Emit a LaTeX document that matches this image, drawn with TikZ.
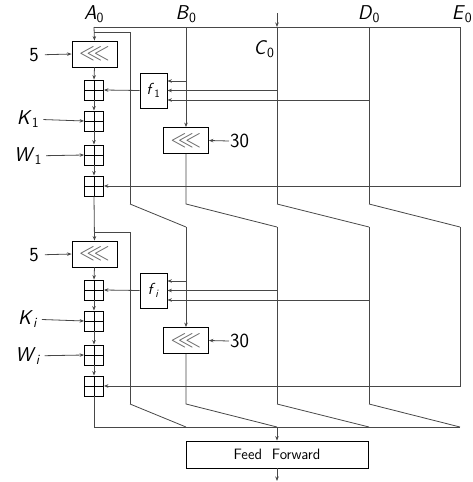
\documentclass[tikz,border=0pt]{standalone}
\usepackage{amssymb}
\usepackage{fontspec}
\usetikzlibrary{arrows.meta}
\newcommand\lbl[2]{\textsf{\textsl{#1}}\textsubscript{\textsf{#2}}}
\begin{document}
\begin{tikzpicture}[x=1pt,y=-1pt,
  ln/.style={draw=black!72,line width=0.8pt},
  arr/.style={ln,-{Stealth[length=4.5pt,width=3.5pt]}},
  boxst/.style={draw=black,line width=0.8pt,inner sep=0pt,fill=white},
  rotbox/.style={boxst,minimum width=45pt,minimum height=26pt,text=black!60,font=\fontsize{23}{24}\selectfont},
  fbox/.style={boxst,minimum width=27pt,minimum height=35pt,font=\fontsize{16}{17}\selectfont},
  adder/.style={boxst,minimum width=19pt,minimum height=20pt,
     path picture={\draw[black,line width=0.8pt] (path picture bounding box.north) -- (path picture bounding box.south)
       (path picture bounding box.west) -- (path picture bounding box.east);}},
  lab/.style={font=\fontsize{20}{22}\selectfont,inner sep=1pt},
  ffbox/.style={boxst,minimum width=182pt,minimum height=27pt,font=\sffamily\fontsize{15}{17}\selectfont}
]
\useasboundingbox (0,0) rectangle (473,482);

% top labels
\node[lab] (lA) at (94,14) {\lbl{A}{0}};
\node[lab] (lB) at (186,14) {\lbl{B}{0}};
\node[lab] (lC) at (264,49) {\lbl{C}{0}};
\node[lab] (lD) at (369,14) {\lbl{D}{0}};
\node[lab] (lE) at (462,14) {\lbl{E}{0}};

\coordinate (tA) at (94,27);
\coordinate (tB) at (186,27);
\coordinate (tCtop) at (277,13);
\coordinate (tC) at (277,27);
\coordinate (tD) at (369,27);
\coordinate (tE) at (460,27);

\foreach \r/\o/\s in {1/0/1,2/200/\textsl{i}}{
  \node[rotbox] (rotA\r) at (94.5,54+\o) {$\lll$};
  \node[adder] (addF\r) at (94,90+\o) {};
  \node[adder] (addK\r) at (94,121+\o) {};
  \node[adder] (addW\r) at (94,155+\o) {};
  \node[adder] (addE\r) at (94,186+\o) {};
  \node[fbox] (f\r) at (153.5,90.5+\o) {\lbl{f}{\s}};
  \node[rotbox] (rotB\r) at (186,140.5+\o) {$\lll$};
  \node[lab] (five\r) at (34,55+\o) {\textsf{5}};
  \node[lab] (K\r) at (28,119+\o) {\lbl{K}{\s}};
  \node[lab] (W\r) at (28,156+\o) {\lbl{W}{\s}};
  \node[lab,anchor=west] (thirty\r) at (229,141+\o) {\textsf{30}};
  \draw[arr,shorten <=5pt] (five\r) -- (rotA\r.west);
  \draw[arr,shorten <=3pt] (K\r) -- (addK\r.west);
  \draw[arr,shorten <=3pt] (W\r) -- (addW\r.west);
  \draw[arr] (thirty\r.west) -- (rotB\r.east);
  \draw[arr] (rotA\r.south) -- (addF\r.north);
  \draw[arr] (addF\r) -- (addK\r);
  \draw[arr] (addK\r) -- (addW\r);
  \draw[arr] (addW\r) -- (addE\r);
  \draw[arr] (f\r.west) -- (addF\r.east);
  % f inputs
  \coordinate (fiB\r) at (186,81+\o);
  \coordinate (fiC\r) at (277,90.5+\o);
  \coordinate (fiD\r) at (369,100+\o);
  \draw[arr] (fiB\r) -- (f\r.east |- fiB\r);
  \draw[arr] (fiC\r) -- (f\r.east |- fiC\r);
  \draw[arr] (fiD\r) -- (f\r.east |- fiD\r);
  % slanted lines of round
  \coordinate (sA\r) at (130,204+\o);
  \coordinate (sB\r) at (186,204+\o);
  \coordinate (sC\r) at (277,204+\o);
  \coordinate (sD\r) at (369,204+\o);
  \coordinate (eA\r) at (186,227+\o);
  \coordinate (eB\r) at (277,227+\o);
  \coordinate (eC\r) at (369,227+\o);
  \coordinate (eD\r) at (460,227+\o);
  \draw[ln] (sA\r) -- (eA\r);
  \draw[ln] (rotB\r.south) -- (sB\r) -- (eB\r);
  \draw[ln] (sC\r) -- (eC\r);
  \draw[ln] (sD\r) -- (eD\r);
}

% round 1 inputs
\draw[ln] (tA) -- (tE);
\draw[arr] (tA) -- (rotA1.north);
\coordinate (brA1) at (94,32);
\draw[ln] (brA1) -- (130,32) -- (sA1);
\draw[arr] (tB) -- (rotB1.north);
\draw[arr] (tCtop) -- (tC);
\draw[ln] (tC) -- (sC1);
\draw[ln] (tD) -- (sD1);
\draw[arr] (tE) -- (460,186) -- (addE1.east);

% round 2 inputs
\draw[arr] (addE1.south) -- (rotA2.north);
\coordinate (brA2) at (94,232);
\draw[ln] (brA2) -- (130,232) -- (sA2);
\draw[arr] (eA1) -- (rotB2.north);
\draw[ln] (eB1) -- (sC2);
\draw[ln] (eC1) -- (sD2);
\draw[arr] (eD1) -- (460,386) -- (addE2.east);

% output
\coordinate (bot) at (94,427);
\draw[ln] (addE2.south) -- (bot) -- (eD2);
\node[ffbox] (ff) at (277,454.5) {Feed\ \ Forward};
\coordinate (out) at (277,481);
\draw[arr] (eB2) -- (ff.north);
\draw[arr] (ff.south) -- (out);
\end{tikzpicture}
\end{document}
